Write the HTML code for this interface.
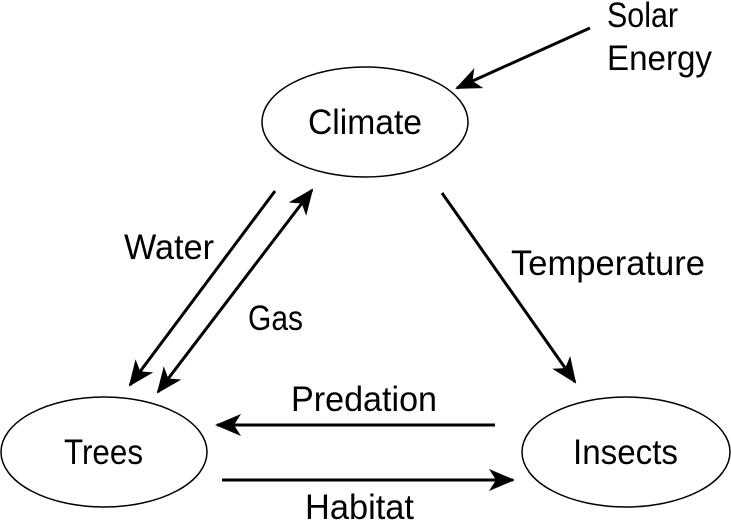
<!DOCTYPE html>
<html><head><style>body{margin:0;background:#fff}svg{display:block}text{font-family:"Liberation Sans",sans-serif;font-size:35px;fill:#000}</style></head>
<body>
<svg width="731" height="522" viewBox="0 0 731 522">
<defs>
<marker id="b" viewBox="0 0 26 22" refX="24" refY="11" markerWidth="26" markerHeight="22" markerUnits="userSpaceOnUse" orient="auto-start-reverse"><path d="M0,0 L26,11 L0,22 L7,11 Z" fill="#000"/></marker></defs>
<g fill="none" stroke="#000" stroke-width="1.5">
<ellipse cx="365" cy="122" rx="103" ry="55"/>
<ellipse cx="104" cy="452" rx="103" ry="55"/>
<ellipse cx="626" cy="452" rx="104" ry="55"/>
</g>
<g stroke="#000" stroke-width="3" fill="none">
<line x1="590" y1="28" x2="457" y2="88" marker-end="url(#b)"/>
<line x1="275" y1="191" x2="130" y2="385" marker-end="url(#b)"/>
<line x1="158" y1="392" x2="312" y2="190" marker-start="url(#b)" marker-end="url(#b)"/>
<line x1="442" y1="193" x2="575" y2="382" marker-end="url(#b)"/>
<line x1="495" y1="425" x2="217" y2="425" marker-end="url(#b)"/>
<line x1="222" y1="480" x2="513" y2="480" marker-end="url(#b)"/>
</g>
<text x="308" y="134" textLength="114" lengthAdjust="spacingAndGlyphs">Climate</text>
<text x="64" y="464" textLength="79" lengthAdjust="spacingAndGlyphs">Trees</text>
<text x="573" y="464" textLength="105" lengthAdjust="spacingAndGlyphs">Insects</text>
<text x="607" y="27" textLength="71" lengthAdjust="spacingAndGlyphs">Solar</text>
<text x="607" y="70" textLength="105" lengthAdjust="spacingAndGlyphs">Energy</text>
<text x="124" y="259" textLength="90" lengthAdjust="spacingAndGlyphs">Water</text>
<text x="248" y="330" textLength="55" lengthAdjust="spacingAndGlyphs">Gas</text>
<text x="511" y="275" textLength="194" lengthAdjust="spacingAndGlyphs">Temperature</text>
<text x="291" y="411" textLength="146" lengthAdjust="spacingAndGlyphs">Predation</text>
<text x="305" y="519" textLength="109" lengthAdjust="spacingAndGlyphs">Habitat</text>
</svg>
</body></html>
